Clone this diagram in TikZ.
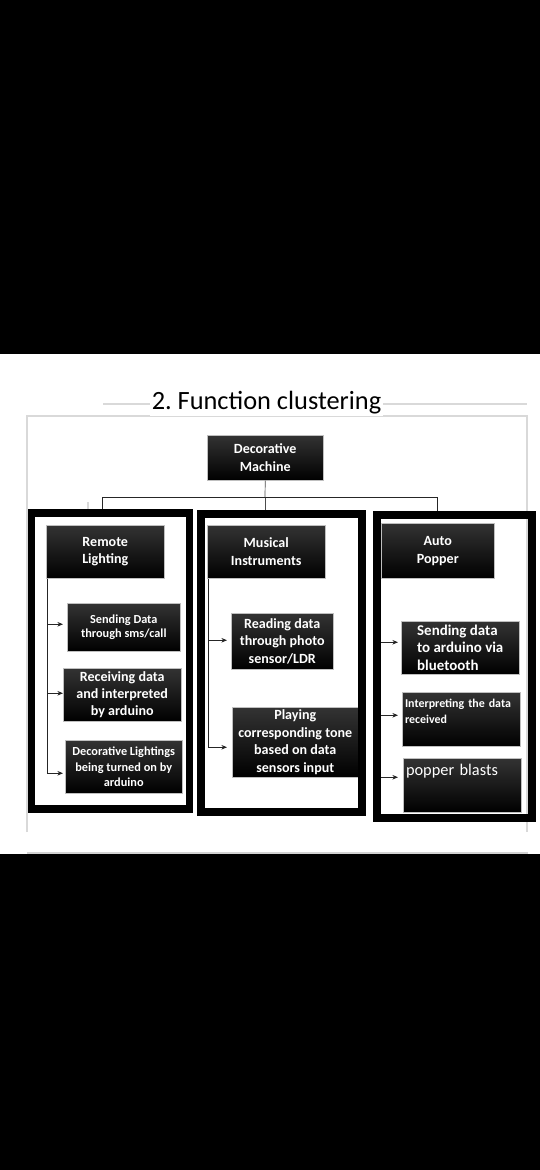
\documentclass[tikz,border=0pt]{standalone}
\usepackage{fontspec}
\setmainfont{Carlito}
\usetikzlibrary{arrows.meta,calc}
\frenchspacing

\tikzset{
  blk/.style={anchor=north west, draw=gray!50, line width=0.3pt,
    top color=black!80, middle color=black, bottom color=black, text=white,
    inner sep=1pt, align=center, font=\bfseries\fontsize{8}{10}\selectfont},
  small/.style={font=\bfseries\fontsize{7}{8.3}\selectfont},
  frm/.style={draw=black, line width=4pt},
  arr/.style={draw=black!85, line width=0.4pt, -{Stealth[length=3.2pt,width=2.6pt]}},
  thin/.style={draw=black!70, line width=0.4pt},
  pale/.style={draw=gray!30, line width=0.6pt}
}

\begin{document}
\begin{tikzpicture}[x=0.02cm,y=-0.02cm]
\useasboundingbox (0,0) rectangle (540,1170);
% screen background
\fill[black] (0,0) rectangle (540,1170);
\fill[white] (0,354) rectangle (540,854);

% page lines
\draw[pale] (103,404) -- (527,404);
\draw[pale] (27,832) |- (527,416) -- (527,832);
\draw[gray!35, line width=1.2pt] (27,853) -- (528,853);

% title
\node[fill=white, inner sep=1pt, font=\fontsize{15}{18}\selectfont] (ttl) at (266.5,403) {2. Function clustering};

% root
\node[blk, minimum width=2.32cm, minimum height=0.90cm] (dm) at (207,435) {Decorative\\Machine};

% cluster heads
\node[blk, minimum width=2.36cm, minimum height=1.06cm] (rl) at (46,525) {Remote\\Lighting};
\node[blk, minimum width=2.36cm, minimum height=1.06cm] (mi) at (207,525) {Musical\\Instruments};
\node[blk, minimum width=2.26cm, minimum height=1.10cm] (ap) at (381,523) {Auto\\Popper};

% remote lighting steps
\node[blk, small, minimum width=2.26cm, minimum height=0.96cm] (sd) at (67,603) {Sending Data\\through sms/call};
\node[blk, font=\bfseries\fontsize{8}{9.7}\selectfont, minimum width=2.36cm, minimum height=1.06cm] (rd) at (63,668) {Receiving data\\and interpreted\\by arduino};
\node[blk, font=\bfseries\fontsize{7}{8.6}\selectfont, minimum width=2.34cm, minimum height=1.06cm] (dl) at (65,740) {Decorative Lightings\\being turned on by\\arduino};

% musical instruments steps
\node[blk, minimum width=2.04cm, minimum height=1.12cm] (rp) at (231,613) {Reading data\\through photo\\sensor/LDR};
\node[blk, minimum width=2.52cm, minimum height=1.40cm] (pc) at (232,707) {Playing\\corresponding tone\\based on data\\sensors input};

% auto popper steps
\node[blk, align=left, font=\bfseries\fontsize{8.5}{10}\selectfont, minimum width=2.36cm, minimum height=1.06cm] (sb) at (401,621) {Sending data\\to arduino via\\bluetooth};
\node[blk, align=left, text width=64pt, inner xsep=1.5pt, font=\bfseries\fontsize{6.8}{9}\selectfont, minimum width=2.36cm, minimum height=1.08cm] (ir) at (402,692) {Interpreting the data\\received\\\mbox{}};
\node[blk, align=left, text width=64pt, inner xsep=1.5pt, font=\fontsize{9.3}{11.3}\selectfont, minimum width=2.36cm, minimum height=1.08cm] (pb) at (403,758) {popper blasts\\[6pt]\mbox{}};

% root to clusters
\coordinate (bar) at (265,497);
\draw[thin] (dm.south) -- (bar);
\draw[arr] (bar) -| ($(rl.north)+(-3,-10)$);
\draw[thin] (bar) -- ++(0,15);
\draw[arr] (bar) -| ($(ap.north)+(0,-4)$);
\draw[pale] (88,502) -- (88,511);

% steps
\draw[arr] ([xshift=0.6pt]rl.south west) |- ($(sd.west)+(-4,-3)$);
\draw[arr] ([xshift=0.6pt]rl.south west) |- ($(rd.west)+(0,-1.5)$);
\draw[arr] ([xshift=0.6pt]rl.south west) |- ($(dl.west)+(-2,6.5)$);
\draw[arr] ([xshift=0.6pt]mi.south west) |- ($(rp.west)+(-4,-1)$);
\draw[arr] ([xshift=0.6pt]mi.south west) |- ($(pc.west)+(-5,5)$);
\draw[arr] ($(ap.south west)+(-3,0)$) |- ($(sb.west)+(-3,-5.5)$);
\draw[arr] ($(ap.south west)+(-3,0)$) |- ($(ir.west)+(-4,-4)$);
\draw[arr] ($(ap.south west)+(-3,0)$) |- ($(pb.west)+(-5,-8)$);

% cluster frames
\draw[frm] (31.5,513) rectangle (189.5,809);
\draw[frm] (201,514) rectangle (362,812);
\draw[frm] (377,515) rectangle (532,818);
\end{tikzpicture}
\end{document}
